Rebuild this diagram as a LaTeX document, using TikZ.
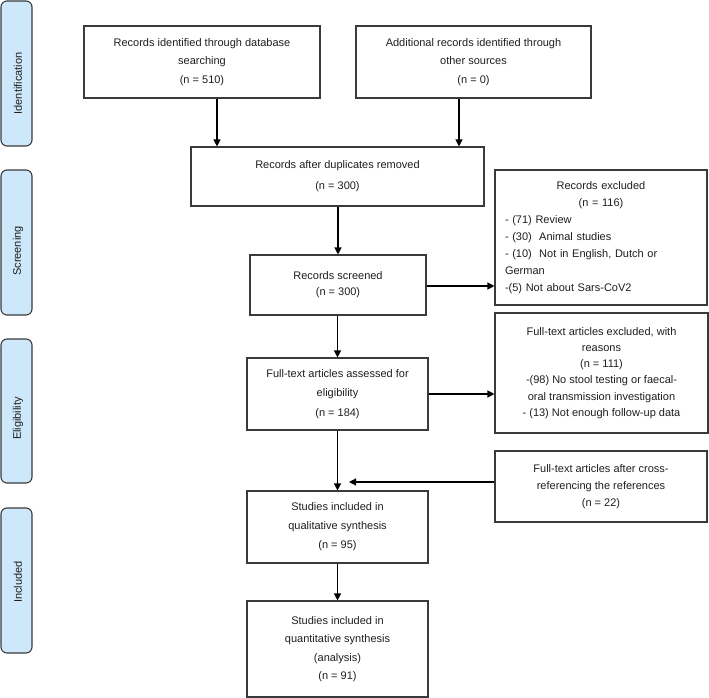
\documentclass[tikz,border=0pt]{standalone}
\usepackage{fontspec}
\setmainfont{Liberation Sans}
\usetikzlibrary{arrows.meta}
\definecolor{sidefill}{HTML}{CDE8FA}
\definecolor{edge}{HTML}{3A3A3A}
\definecolor{ink}{HTML}{1E1E1E}
\begin{document}
\begin{tikzpicture}[x=1pt,y=-1pt,
  box/.style={draw=edge, line width=1.1pt, text=ink, align=center, inner sep=0pt, font=\fontsize{11}{17}\selectfont},
  sidebox/.style={draw=edge, line width=1.1pt, fill=sidefill, rounded corners=6pt, minimum width=31pt, minimum height=145pt, inner sep=0pt},
  sidetext/.style={rotate=90, text=ink, inner sep=0pt, font=\fontsize{11}{13}\selectfont},
  arr/.style={draw=black, line width=1.2pt, -{Triangle[length=7pt,width=7pt]}}]
\useasboundingbox (0,0) rectangle (709,698);

% side labels
\node[sidebox] (s1) at (16.5,73.5) {};
\node[sidetext] (s1t) at (18,83.5) {Identification};
\node[sidebox] (s2) at (16.5,242.5) {};
\node[sidetext] (s2t) at (18,251) {Screening};
\node[sidebox, minimum height=144pt] (s3) at (16.5,411) {};
\node[sidetext] (s3t) at (18,418.5) {Eligibility};
\node[sidebox] (s4) at (16.5,580.5) {};
\node[sidetext] (s4t) at (18,582) {Included};

% boxes
\node[box, minimum width=236pt, minimum height=72pt, font=\fontsize{11}{18.5}\selectfont] (A) at (202,62)
  {Records identified through database\\ searching\\ (n = 510)};
\node[box, minimum width=235pt, minimum height=72pt, font=\fontsize{11}{18.5}\selectfont] (B) at (473.5,62)
  {Additional records identified through\\ other sources\\ (n = 0)};
\node[box, minimum width=293pt, minimum height=59pt, font=\fontsize{11}{21}\selectfont] (C) at (337.5,176.5)
  {Records after duplicates removed\\ (n = 300)};
\node[box, minimum width=176pt, minimum height=60pt, font=\fontsize{11}{16}\selectfont] (D) at (338,285)
  {Records screened\\ (n = 300)};
\node[box, minimum width=212pt, minimum height=135pt, text width=192pt, inner xsep=10pt, align=left] (E) at (601,237.5)
  {{\centering Records excluded\\ (n = 116)\par}- (71) Review\\ - (30)\ \ Animal studies\\ - (10)\ \ Not in English, Dutch or\\ German\\ -(5) Not about Sars-CoV2};
\node[box, minimum width=181pt, minimum height=72pt, font=\fontsize{11}{19.5}\selectfont] (F) at (337.5,394)
  {Full-text articles assessed for\\ eligibility\\ (n = 184)};
\node[box, minimum width=213pt, minimum height=120pt, font=\fontsize{11}{16.3}\selectfont] (G) at (601.5,373)
  {Full-text articles excluded, with\\ reasons\\ (n = 111)\\ -(98) No stool testing or faecal-\\ oral transmission investigation\\ - (13) Not enough follow-up data};
\node[box, minimum width=212pt, minimum height=71pt] (H) at (601,486.5)
  {Full-text articles after cross-\\ referencing the references\\ (n = 22)};
\node[box, minimum width=181pt, minimum height=72pt, font=\fontsize{11}{19}\selectfont] (I) at (337.5,527)
  {Studies included in\\ qualitative synthesis\\ (n = 95)};
\node[box, minimum width=181pt, minimum height=96pt, font=\fontsize{11}{18.3}\selectfont] (J) at (337.5,649)
  {Studies included in\\ quantitative synthesis\\ (analysis)\\ (n = 91)};

% connectors
\draw[arr] ([xshift=15pt]A.south) -- ([xshift=15pt]A.south |- C.north);
\draw[arr] ([xshift=-14.5pt]B.south) -- ([xshift=-14.5pt]B.south |- C.north);
\draw[arr] (C.south -| D.north) -- (D.north);
\draw[arr] ([yshift=-1pt]D.east) -- ([yshift=-1pt]D.east -| E.west);
\draw[arr] (D.south -| F.north) -- (F.north);
\draw[arr] (F.east) -- (F.east -| G.west);
\draw[arr] (F.south) -- (F.south |- I.north);
\coordinate (hend) at (349,482);
\draw[arr] (H.west |- hend) -- (hend);
\draw[arr] (I.south) -- (I.south |- J.north);
\end{tikzpicture}
\end{document}
